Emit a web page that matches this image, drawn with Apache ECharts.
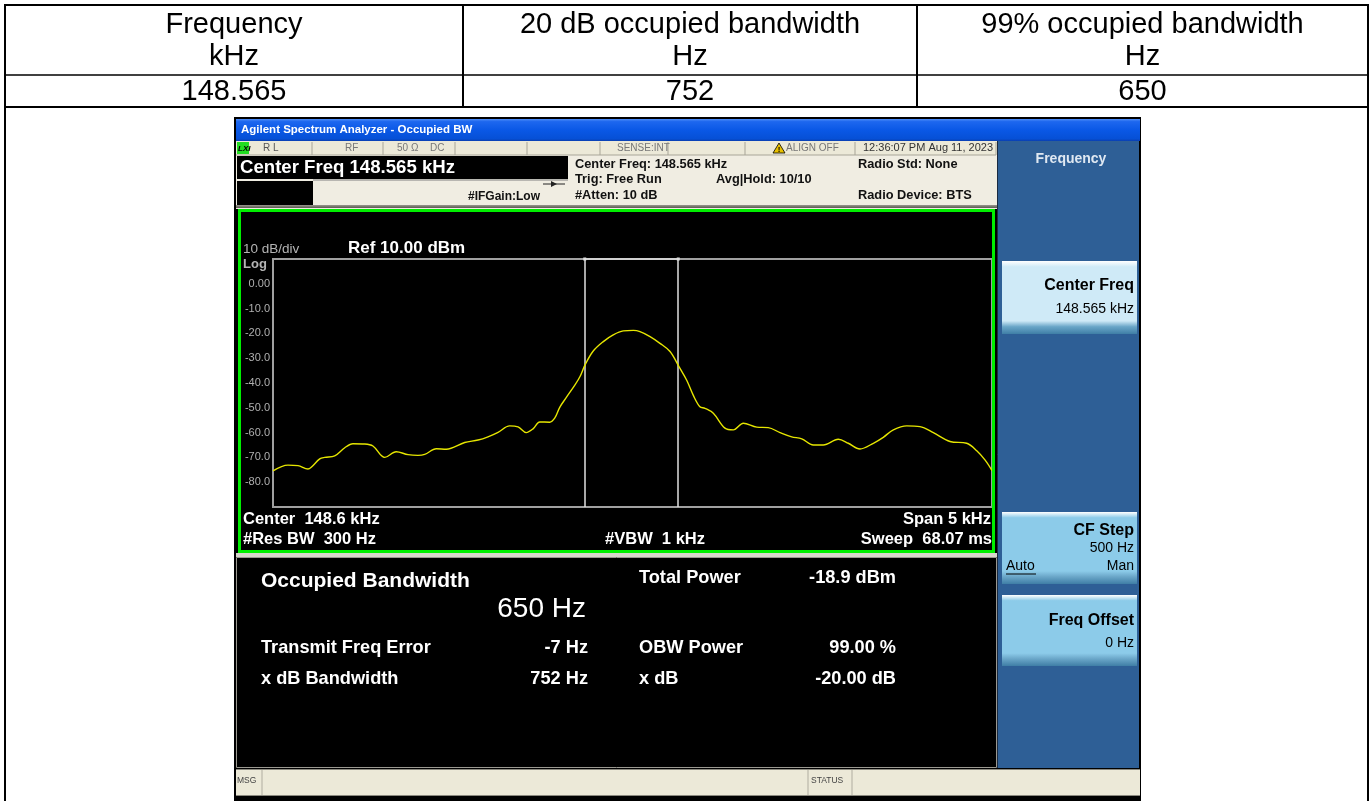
<!DOCTYPE html>
<html>
<head>
<meta charset="utf-8">
<script src="https://cdn.jsdelivr.net/npm/echarts@6/dist/echarts.min.js"></script>
<style>
html,body{margin:0;padding:0;background:#fff;}
#chart{width:1372px;height:801px;}
</style>
</head>
<body>
<div id="chart"></div>
<script>
// ---------------- data ----------------
const tableHeaders = [['Frequency', 'kHz'], ['20 dB occupied bandwidth', 'Hz'], ['99% occupied bandwidth', 'Hz']];
const tableValues = ['148.565', '752', '650'];

const freqOffsetHz = [-2500, -2396, -2326, -2257, -2234, -2175, -2140, -2071, -2001, -1944, -1862, -1805, -1723, -1643, -1561, -1492, -1445, -1364, -1295, -1167, -1074, -1005, -935, -854, -796, -739, -692, -645, -576, -541, -506, -460, -400, -365, -330, -273, -203, -134, -64, 6, 52, 122, 191, 261, 325, 377, 423, 469, 504, 562, 643, 701, 771, 864, 944, 1026, 1107, 1177, 1257, 1327, 1431, 1501, 1582, 1675, 1744, 1814, 1907, 1999, 2092, 2208, 2324, 2394, 2451, 2500];
const levelDbm = [-75.4, -73.1, -73.3, -74.7, -74.0, -70.6, -70.0, -69.4, -66.1, -64.5, -64.6, -65.4, -70.0, -67.7, -68.9, -69.2, -68.8, -66.5, -66.7, -64.0, -63.0, -61.7, -59.9, -57.3, -57.7, -60.0, -58.5, -55.7, -55.8, -54.2, -49.8, -45.8, -40.8, -37.4, -32.7, -27.1, -23.3, -20.6, -19.0, -18.8, -19.3, -21.3, -24.0, -27.3, -33.6, -38.9, -45.0, -49.6, -50.2, -52.2, -58.2, -58.9, -56.2, -57.8, -58.0, -60.0, -61.7, -62.5, -65.0, -65.0, -62.7, -64.3, -66.6, -64.3, -61.9, -58.9, -57.3, -57.6, -60.0, -63.6, -64.3, -67.3, -71.0, -75.3];

// occupied bandwidth marker edges (Hz offset)
const obwEdgesHz = [-332, 318];

// y tick labels for values 10 .. -90
const yTickValues = [10, 0, -10, -20, -30, -40, -50, -60, -70, -80, -90];
const yTickLabels = ['', '0.00', '-10.0', '-20.0', '-30.0', '-40.0', '-50.0', '-60.0', '-70.0', '-80.0', ''];

// measurement results
const resultsLeft = [['Transmit Freq Error', '-7 Hz'], ['x dB Bandwidth', '752 Hz']];
const resultsRight = [['Total Power', '-18.9 dBm'], ['OBW Power', '99.00 %'], ['x dB', '-20.00 dB']];

// ---------------- helpers ----------------
const FF = '"Liberation Sans", Arial, sans-serif';
const G = [];
function rect(x, y, w, h, fill, z, extra) {
  const e = { type: 'rect', shape: { x: x, y: y, width: w, height: h }, style: { fill: fill }, z: z === undefined ? -10 : z, silent: true };
  if (extra) Object.assign(e.style, extra);
  G.push(e);
}
function line(x1, y1, x2, y2, stroke, w, z) {
  G.push({ type: 'line', shape: { x1: x1, y1: y1, x2: x2, y2: y2 }, style: { stroke: stroke, lineWidth: w }, z: z === undefined ? -5 : z, silent: true });
}
function text(x, y, s, font, fill, align, z) {
  G.push({ type: 'text', x: x, y: y, style: { text: s, font: font, fill: fill, align: align || 'left', verticalAlign: 'middle' }, z: z === undefined ? 50 : z, silent: true });
}
function grad(stops) {
  return new echarts.graphic.LinearGradient(0, 0, 0, 1, stops.map(function (s) { return { offset: s[0], color: s[1] }; }));
}

// ---------------- table ----------------
const colX = [5, 463, 917, 1368];
line(5, 5, 1368, 5, '#000', 2);
line(5, 75, 1368, 75, '#000', 1.5);
line(5, 107, 1368, 107, '#000', 2);
line(5, 4, 5, 801, '#000', 2);
line(1368, 4, 1368, 801, '#000', 2);
line(463, 5, 463, 107, '#000', 2);
line(917, 5, 917, 107, '#000', 2);
for (let i = 0; i < 3; i++) {
  const cx = (colX[i] + colX[i + 1]) / 2;
  text(cx, 25, tableHeaders[i][0], '29px ' + FF, '#000', 'center');
  text(cx, 57, tableHeaders[i][1], '29px ' + FF, '#000', 'center');
  text(cx, 92, tableValues[i], '29px ' + FF, '#000', 'center');
}

// ---------------- instrument screen ----------------
rect(234, 117, 907, 684, '#000', -20);
// title bar
rect(236, 119, 904, 22, grad([[0, '#4d8cf7'], [0.12, '#1d67ef'], [0.5, '#0a58e6'], [0.9, '#0650d6'], [1, '#0a3fb0']]), -19);
text(241, 130, 'Agilent Spectrum Analyzer - Occupied BW', 'bold 11.5px ' + FF, '#ffffff');
// status row
rect(236, 141, 761, 14, '#ece9d8', -19);
[312, 383, 455, 527, 600, 668, 745, 855, 996].forEach(function (x) { line(x, 142, x, 155, '#a8a598', 1, -18); });
line(236, 155, 996, 155, '#a8a598', 1, -18);
rect(237, 142, 12, 12, '#22dd22', -17);
text(238, 148.5, 'LXI', 'italic bold 8px ' + FF, '#000');
text(263, 148, 'R L', '10px ' + FF, '#555');
text(345, 148, 'RF', '10px ' + FF, '#777');
text(397, 148, '50 Ω', '10px ' + FF, '#777');
text(430, 148, 'DC', '10px ' + FF, '#777');
text(617, 148, 'SENSE:INT', '10px ' + FF, '#777');
G.push({ type: 'polygon', shape: { points: [[773, 153], [779, 143], [785, 153]] }, style: { fill: '#e8c000', stroke: '#000', lineWidth: 0.8 }, z: 40, silent: true });
text(779, 149.5, '!', 'bold 8px ' + FF, '#000', 'center');
text(786, 148, 'ALIGN OFF', '10px ' + FF, '#777');
text(863, 148, '12:36:07 PM Aug 11, 2023', '11px ' + FF, '#333');
// header info area
rect(236, 155, 761, 54, '#f0ede2', -19);
rect(237, 156, 331, 23, '#000', -18);
text(240, 168, 'Center Freq 148.565 kHz', 'bold 18.6px ' + FF, '#ffffff');
rect(237, 181, 76, 26, '#000', -18);
line(313, 180, 568, 180, '#808080', 1, -17);
text(468, 197, '#IFGain:Low', 'bold 12px ' + FF, '#111');
line(543, 184, 565, 184, '#222', 1, 40);
G.push({ type: 'polygon', shape: { points: [[551, 181], [557, 184], [551, 187]] }, style: { fill: '#222' }, z: 40, silent: true });
const INFO = 'bold 12.8px ' + FF;
text(575, 164, 'Center Freq: 148.565 kHz', INFO, '#111');
text(575, 179, 'Trig: Free Run', INFO, '#111');
text(575, 195, '#Atten: 10 dB', INFO, '#111');
text(716, 179, 'Avg|Hold: 10/10', INFO, '#111');
text(858, 164, 'Radio Std: None', INFO, '#111');
text(858, 195, 'Radio Device: BTS', INFO, '#111');
rect(236, 205, 761, 3, grad([[0, '#9a9890'], [1, '#5a5850']]), -18);

// green trace window
rect(238, 209, 757, 344, '#000', -18);
G.push({ type: 'rect', shape: { x: 239.5, y: 210.5, width: 754, height: 341 }, style: { fill: null, stroke: '#00ee00', lineWidth: 3 }, z: 45, silent: true });
text(243, 249, '10 dB/div', '13.5px ' + FF, '#b4b4b4');
text(243, 264, 'Log', 'bold 13px ' + FF, '#b4b4b4');
text(348, 248, 'Ref 10.00 dBm', 'bold 17px ' + FF, '#ffffff');
const LBL = 'bold 16.5px ' + FF;
text(243, 519, 'Center  148.6 kHz', LBL, '#ffffff');
text(243, 539, '#Res BW  300 Hz', LBL, '#ffffff');
text(655, 539, '#VBW  1 kHz', LBL, '#ffffff', 'center');
text(991, 519, 'Span 5 kHz', LBL, '#ffffff', 'right');
text(992, 539, 'Sweep  68.07 ms', LBL, '#ffffff', 'right');

// separator strip and results panel
rect(236, 553, 761, 4, '#d8d6cc', -19);
rect(236, 557, 761, 211, '#000', -18);
G.push({ type: 'rect', shape: { x: 236.5, y: 557.5, width: 760, height: 210 }, style: { fill: null, stroke: '#9a9890', lineWidth: 1 }, z: 45, silent: true });
text(261, 581, 'Occupied Bandwidth', 'bold 21px ' + FF, '#ffffff');
text(586, 609, tableValues[2] + ' Hz', '28px ' + FF, '#ffffff', 'right');
const RES = 'bold 18.2px ' + FF;
resultsLeft.forEach(function (r, i) {
  const y = [648, 679][i];
  text(261, y, r[0], RES, '#ffffff');
  text(588, y, r[1], RES, '#ffffff', 'right');
});
resultsRight.forEach(function (r, i) {
  const y = [578, 648, 679][i];
  text(639, y, r[0], RES, '#ffffff');
  text(896, y, r[1], RES, '#ffffff', 'right');
});

// MSG bar
rect(236, 769, 904, 27, '#ece9d8', -19);
line(236, 769.5, 1140, 769.5, '#8a887e', 1, -17);
line(236, 795.5, 1140, 795.5, '#8a887e', 1, -17);
line(262, 770, 262, 795, '#b0ada0', 1, -17);
line(808, 770, 808, 795, '#b0ada0', 1, -17);
line(852, 770, 852, 795, '#b0ada0', 1, -17);
text(237, 781, 'MSG', '8.5px ' + FF, '#444');
text(811, 781, 'STATUS', '8.5px ' + FF, '#444');

// right soft-key panel
rect(997, 141, 142, 627, '#2e5f96', -19);
line(997.5, 141, 997.5, 768, '#1a2a40', 1, -17);
text(1071, 159, 'Frequency', 'bold 14px ' + FF, '#dfe8f2', 'center');
function softKey(y, h, body) {
  rect(1002, y, 135, h, grad([[0, '#ffffff'], [0.08, body], [0.82, body], [0.9, '#6aa6c8'], [1, '#3f7ea6']]), -17);
}
const KEY = 'bold 16px ' + FF;
const SUB = '14px ' + FF;
softKey(261, 73, '#cfeaf7');
text(1134, 286, 'Center Freq', KEY, '#000', 'right');
text(1134, 309, '148.565 kHz', SUB, '#000', 'right');
softKey(512, 72, '#8ccbe9');
text(1134, 531, 'CF Step', KEY, '#000', 'right');
text(1134, 548, '500 Hz', SUB, '#000', 'right');
text(1006, 566, 'Auto', SUB, '#000');
line(1006, 574, 1036, 574, '#000', 1, 50);
text(1134, 566, 'Man', SUB, '#000', 'right');
softKey(595, 71, '#8ccbe9');
text(1134, 621, 'Freq Offset', KEY, '#000', 'right');
text(1134, 643, '0 Hz', SUB, '#000', 'right');

// ---------------- chart ----------------
const traceData = freqOffsetHz.map(function (f, i) { return [f, levelDbm[i]]; });
const chart = echarts.init(document.getElementById('chart'), null, { renderer: 'canvas' });
chart.setOption({
  animation: false,
  backgroundColor: '#ffffff',
  graphic: { elements: G },
  grid: { left: 273, top: 259, width: 719, height: 248, show: true, backgroundColor: '#000', borderColor: '#a0a0a0', borderWidth: 2, z: 1 },
  xAxis: {
    type: 'value', min: -2500, max: 2500, interval: 500,
    axisLine: { show: false }, axisTick: { show: false }, axisLabel: { show: false },
    splitLine: { show: true, lineStyle: { color: '#8a8a8a', width: 1 } }
  },
  yAxis: {
    type: 'value', min: -90, max: 10, interval: 10,
    axisLine: { show: false }, axisTick: { show: false },
    axisLabel: {
      margin: 3, color: '#b0b0b0', fontSize: 11, fontFamily: 'Liberation Sans, Arial, sans-serif',
      formatter: function (v) { const i = yTickValues.indexOf(Math.round(v)); return i >= 0 ? yTickLabels[i] : ''; }
    },
    splitLine: { show: true, lineStyle: { color: '#8a8a8a', width: 1 } }
  },
  series: [{
    type: 'line', data: traceData, showSymbol: false, smooth: 0.35, z: 5,
    lineStyle: { color: '#e6e600', width: 1.4 },
    markLine: {
      silent: true, symbol: 'none', animation: false,
      label: { show: false },
      lineStyle: { color: '#e0e0e0', width: 1.5, type: 'solid' },
      data: [
        { xAxis: obwEdgesHz[0] },
        { xAxis: obwEdgesHz[1] },
        [{ coord: [obwEdgesHz[0], 10], symbol: 'rect', symbolSize: 3 }, { coord: [obwEdgesHz[1], 10], symbol: 'rect', symbolSize: 3 }]
      ]
    }
  }]
});
</script>
</body>
</html>
